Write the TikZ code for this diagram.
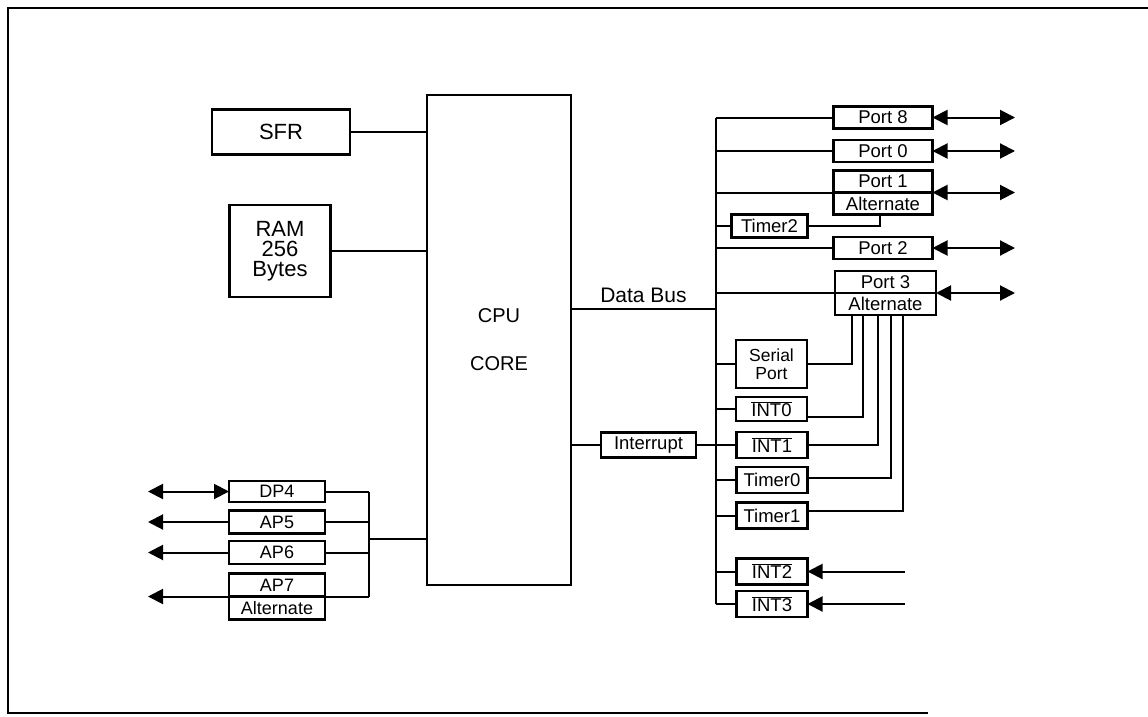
\documentclass[tikz,border=0pt]{standalone}
\usepackage{fontspec}
\setmainfont{Liberation Sans}
\usetikzlibrary{arrows.meta,positioning}

\begin{document}
\begin{tikzpicture}[x=1pt, y=-1pt,
    box/.style={draw, line width=2.6pt, inner sep=0pt, outer sep=0pt, font=\fontsize{18.5}{20}\selectfont},
    port/.style={box, minimum width=99pt, minimum height=22pt},
    unit/.style={box, minimum width=71pt, minimum height=26pt},
    lport/.style={box, minimum width=96pt, minimum height=23pt, font=\fontsize{18}{20}\selectfont},
    wire/.style={line width=2pt},
    dbl/.style={wire, {Triangle[length=15pt,width=15pt]}-{Triangle[length=15pt,width=15pt]}},
    sgl/.style={wire, -{Triangle[length=15pt,width=15pt]}}]
    \useasboundingbox (0,0) rectangle (1148,717);

    % Frame
    \draw[line width=2pt] (1148,8) -- (8,8) -- (8,713) -- (928,713);

    % CPU and memory
    \node[box, line width=2.2pt, minimum width=144pt, minimum height=490pt, align=center, font=\fontsize{20}{24}\selectfont] (cpu) at (499,340) {CPU\\[24pt]CORE};
    \node[box, minimum width=138pt, minimum height=45pt, font=\fontsize{22}{24}\selectfont] (sfr) at (281,132) {SFR};
    \node[box, minimum width=101pt, minimum height=92pt, align=center, font=\fontsize{22}{20}\selectfont] (ram) at (280,251) {RAM\\256\\Bytes};
    \draw[wire] (sfr.east) -- (sfr.east -| cpu.west);
    \draw[wire] (ram.east) -- (ram.east -| cpu.west);

    % Ports on the right
    \node[port] (p8) at (883,117.5) {Port 8};
    \node[port] (p0) at (883,151) {Port 0};
    \node[port] (p1) at (883,181.5) {Port 1};
    \node[port, below=0pt of p1] (p1alt) {Alternate};
    \node[port] (p2) at (883,248) {Port 2};
    \node[port, minimum width=101pt] (p3) at (885.5,282) {Port 3};
    \node[port, minimum width=101pt, below=0pt of p3] (p3alt) {Alternate};

    % Units on the bus
    \node[unit, minimum width=76pt, minimum height=23pt] (t2) at (769.5,226) {Timer2};
    \node[unit, minimum height=48pt, align=center, font=\fontsize{17.5}{18}\selectfont] (sp) at (771.5,364) {Serial\\Port};
    \node[unit, minimum height=24pt] (int0) at (771.5,409) {$\overline{\mbox{INT0}}$};
    \node[unit] (int1) at (772,445) {$\overline{\mbox{INT1}}$};
    \node[unit] (t0) at (772,480) {Timer0};
    \node[unit] (t1) at (772,515.5) {Timer1};
    \node[unit] (int2) at (772,571.5) {$\overline{\mbox{INT2}}$};
    \node[unit] (int3) at (772,604) {$\overline{\mbox{INT3}}$};
    \node[box, minimum width=95pt, minimum height=25pt] (irq) at (648.5,445) {Interrupt};

    % Ports on the left
    \node[lport, minimum height=21pt] (dp4) at (277,491.5) {DP4};
    \node[lport] (ap5) at (277,522) {AP5};
    \node[lport] (ap6) at (277,552.5) {AP6};
    \node[lport] (ap7) at (277,585) {AP7};
    \node[lport, below=0pt of ap7] (ap7alt) {Alternate};

    \coordinate (bus) at (716,0);
    \coordinate (lcol) at (369,0);
    \coordinate (lmid) at (369,539);
    \coordinate (pinR) at (1015,0);
    \coordinate (pinL) at (148,0);
    \coordinate (pinI) at (905,0);
    \coordinate (dbus) at (716,309);

    % Data bus
    \draw[wire] (p8.west -| bus) -- (int3.west -| bus);
    \draw[wire] (dbus -| cpu.east) -- (dbus) node[midway, above=2pt, font=\fontsize{21}{23}\selectfont] (dblbl) {Data Bus};
    \foreach \n in {p8, p0, t2, p2, sp, int0, t0, t1, int2, int3}
      \draw[wire] (\n.west -| bus) -- (\n.west);
    \draw[wire] (p1.south west -| bus) -- (p1.south west);
    \draw[wire] (p3.south west -| bus) -- (p3.south west);
    \draw[wire] (irq.west -| cpu.east) -- (irq.west);
    \draw[wire] (irq.east) -- (int1.west);

    % Alternate functions
    \draw[wire] (t2.east) -| ([xshift=-3pt]p1alt.south);
    \foreach \n/\dx/\dy in {sp/-34/0, int0/-23/-8, int1/-8/0, t0/5/2, t1/17/5}
      \draw[wire] ([yshift=\dy pt]\n.east) -| ([xshift=\dx pt]p3alt.south);

    % Pins
    \foreach \n in {p8, p0, p2}
      \draw[dbl] (\n.east) -- (\n.east -| pinR);
    \draw[dbl] (p1.south east) -- (p1.south east -| pinR);
    \draw[dbl] (p3.south east) -- (p3.south east -| pinR);
    \draw[sgl] (int2.east -| pinI) -- (int2.east);
    \draw[sgl] (int3.east -| pinI) -- (int3.east);

    % Left side
    \draw[wire] (dp4.east -| lcol) -- (ap7.south east -| lcol);
    \foreach \n in {dp4, ap5, ap6}
      \draw[wire] (\n.east) -- (\n.east -| lcol);
    \draw[wire] (lmid) -- (lmid -| cpu.west);
    \draw[dbl] (dp4.west) -- (dp4.west -| pinL);
    \draw[sgl] (ap5.west) -- (ap5.west -| pinL);
    \draw[sgl] (ap6.west) -- (ap6.west -| pinL);
    \draw[sgl] (ap7.south east -| lcol) -- (ap7.south east -| pinL);
\end{tikzpicture}
\end{document}
